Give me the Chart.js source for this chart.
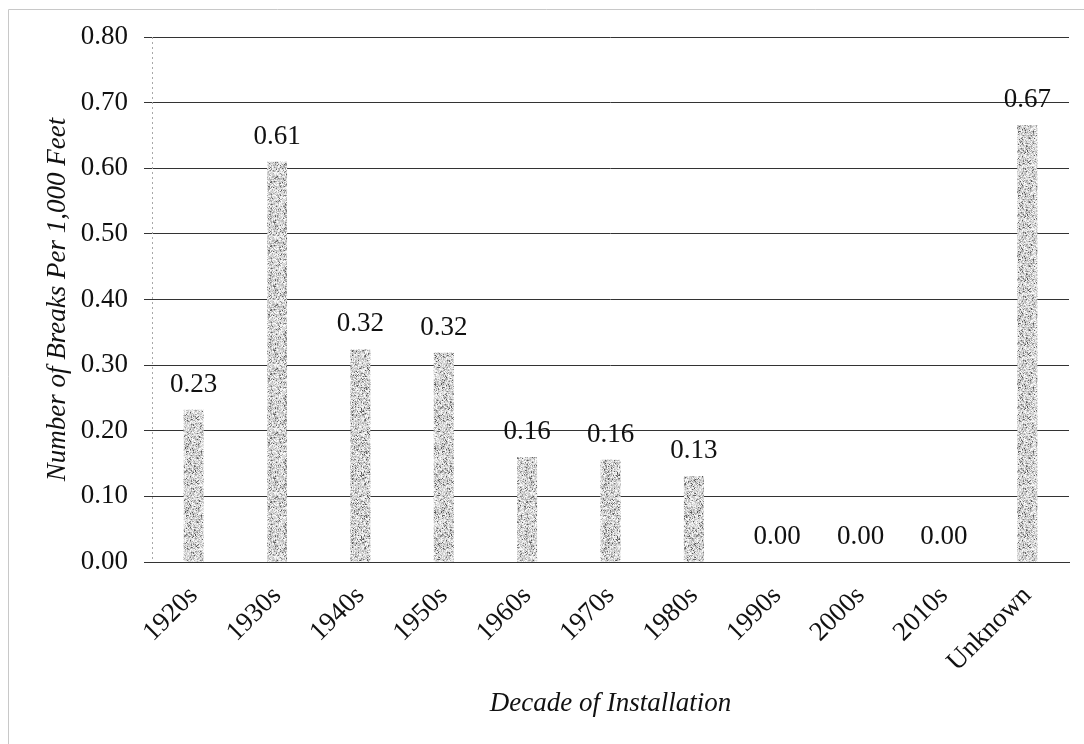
<!DOCTYPE html>
<html>
<head>
<meta charset="utf-8">
<script src="https://cdn.jsdelivr.net/npm/chart.js@4.4.1/dist/chart.umd.min.js"></script>
<style>
  html, body { margin: 0; padding: 0; background: #ffffff; }
  #wrap { position: relative; width: 1084px; height: 744px; }
</style>
</head>
<body>
<div id="wrap"><canvas id="c" width="1084" height="744"></canvas></div>
<script>
// ---- data ----
const categories = ['1920s', '1930s', '1940s', '1950s', '1960s', '1970s', '1980s', '1990s', '2000s', '2010s', 'Unknown'];
const breaksPer1000Ft = [0.232, 0.610, 0.324, 0.319, 0.160, 0.156, 0.131, 0.00, 0.00, 0.00, 0.666];
const yTickMin = 0;
const yTickMax = 0.8;
const yTickStep = 0.1;
const xTitle = 'Decade of Installation';
const yTitle = 'Number of Breaks Per 1,000 Feet';

// ---- speckled grey texture for bars (deterministic hash) ----
function makeSpeckle() {
  const s = 64;
  const pc = document.createElement('canvas');
  pc.width = s; pc.height = s;
  const pctx = pc.getContext('2d');
  const img = pctx.createImageData(s, s);
  for (let yy = 0; yy < s; yy++) {
    for (let xx = 0; xx < s; xx++) {
      let h = (xx * 374761393 + yy * 668265263) >>> 0;
      h = ((h ^ (h >>> 13)) * 1274126177) >>> 0;
      h = (h ^ (h >>> 16)) >>> 0;
      const r = h % 1000;
      let v;
      if (r < 90) v = 80 + (h >>> 10) % 60;
      else if (r < 420) v = 160 + (h >>> 10) % 45;
      else v = 205 + (h >>> 10) % 50;
      const i = (yy * s + xx) * 4;
      img.data[i] = v; img.data[i + 1] = v; img.data[i + 2] = v; img.data[i + 3] = 255;
    }
  }
  pctx.putImageData(img, 0, 0);
  return document.getElementById('c').getContext('2d').createPattern(pc, 'repeat');
}

const FONT = '"Liberation Serif", "Times New Roman", serif';

const frame = {
  id: 'frame',
  beforeDraw(chart) {
    const ctx = chart.ctx;
    ctx.save();
    ctx.strokeStyle = '#c8c8c8';
    ctx.lineWidth = 1;
    ctx.beginPath();
    ctx.moveTo(8.5, 744); ctx.lineTo(8.5, 9.5); ctx.lineTo(1084, 9.5);
    ctx.stroke();
    ctx.restore();
  },
  beforeDatasetsDraw(chart) {
    const ctx = chart.ctx;
    const a = chart.chartArea;
    const x = Math.round(a.left) + 0.5;
    ctx.save();
    ctx.strokeStyle = '#a8a8a8';
    ctx.lineWidth = 1;
    ctx.setLineDash([2, 3]);
    ctx.beginPath();
    ctx.moveTo(x, a.top); ctx.lineTo(x, a.bottom);
    ctx.stroke();
    ctx.restore();
  }
};

const valueLabels = {
  id: 'valueLabels',
  afterDatasetsDraw(chart) {
    const ctx = chart.ctx;
    const meta = chart.getDatasetMeta(0);
    const data = chart.data.datasets[0].data;
    ctx.save();
    ctx.font = '27px ' + FONT;
    ctx.fillStyle = '#111111';
    ctx.textAlign = 'center';
    ctx.textBaseline = 'alphabetic';
    meta.data.forEach((el, i) => {
      ctx.fillText(Number(data[i]).toFixed(2), el.x, el.y - 18);
    });
    ctx.restore();
  }
};

new Chart(document.getElementById('c'), {
  type: 'bar',
  data: {
    labels: categories,
    datasets: [{
      data: breaksPer1000Ft,
      backgroundColor: makeSpeckle(),
      borderWidth: 0,
      barPercentage: 0.24,
      categoryPercentage: 1.0
    }]
  },
  options: {
    responsive: false,
    animation: false,
    devicePixelRatio: 1,
    layout: { padding: { left: 42, right: 15, top: 37, bottom: 10 } },
    plugins: {
      legend: { display: false },
      tooltip: { enabled: false }
    },
    scales: {
      x: {
        grid: { display: false },
        border: { display: true, color: '#333333', width: 1 },
        ticks: {
          color: '#111111',
          font: { family: FONT, size: 27 },
          minRotation: 45,
          maxRotation: 45,
          padding: 10,
          autoSkip: false
        },
        title: {
          display: true,
          text: xTitle,
          color: '#111111',
          font: { family: FONT, size: 27, style: 'italic' },
          padding: { top: 0, bottom: 14 }
        },
        afterFit(scale) { scale.height = 172; }
      },
      y: {
        min: yTickMin,
        max: yTickMax,
        ticks: {
          stepSize: yTickStep,
          color: '#111111',
          font: { family: FONT, size: 27 },
          padding: 16,
          callback: v => Number(v).toFixed(2)
        },
        grid: {
          color: '#333333',
          lineWidth: 1,
          drawTicks: true,
          tickLength: 8,
          tickColor: '#333333'
        },
        border: { display: false },
        title: {
          display: true,
          text: yTitle,
          color: '#111111',
          font: { family: FONT, size: 27, style: 'italic' },
          padding: { top: 0, bottom: 0 }
        },
        afterFit(scale) { scale.width = 110; }
      }
    }
  },
  plugins: [frame, valueLabels]
});
</script>
</body>
</html>
